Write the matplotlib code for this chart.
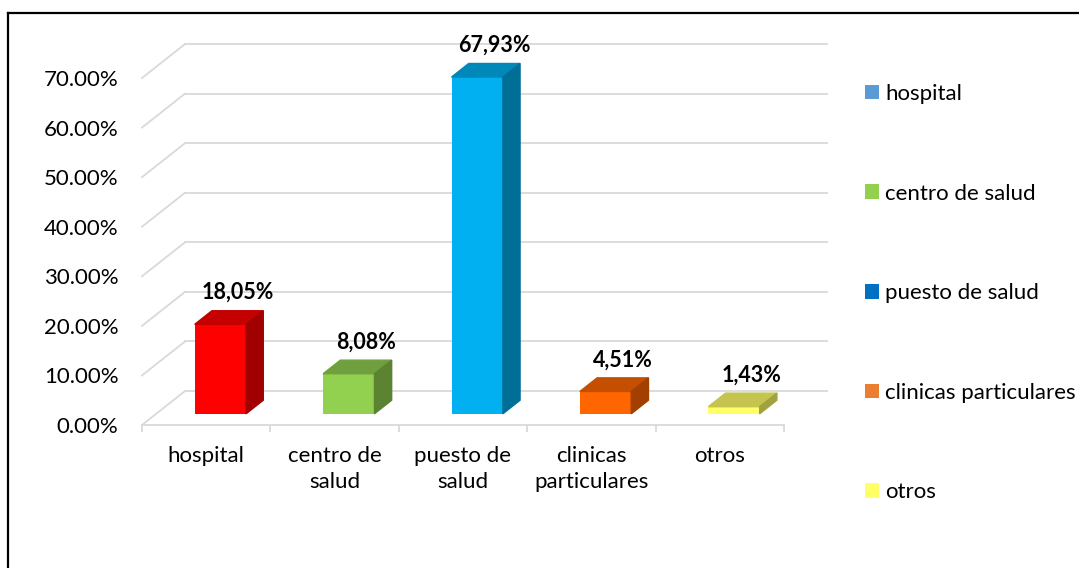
import matplotlib.pyplot as plt
from matplotlib.patches import Polygon, Patch
from matplotlib.lines import Line2D
from matplotlib.colors import to_rgb

# data
categories = ["hospital", "centro de\nsalud", "puesto de\nsalud", "clinicas\nparticulares", "otros"]
legend_names = ["hospital", "centro de salud", "puesto de salud", "clinicas particulares", "otros"]
values = [18.05, 8.08, 67.93, 4.51, 1.43]
value_labels = ["18,05%", "8,08%", "67,93%", "4,51%", "1,43%"]
bar_colors = ["#FF0000", "#92D050", "#00B0F0", "#FF6600", "#FFFF66"]
legend_colors = ["#5B9BD5", "#92D050", "#0070C0", "#ED7D31", "#FFFF66"]
yticks = [0, 10, 20, 30, 40, 50, 60, 70]

plt.rcParams['font.family'] = ['Lato', 'DejaVu Sans']
FS = 16

W, H = 1079, 568
fig = plt.figure(figsize=(W / 100, H / 100), dpi=100)
# front plane of the 3d chart: x 142..784 px, y 425..78 px
ax = fig.add_axes([142 / W, (H - 425) / H, 642 / W, 347 / H])
ax.set_xlim(0, 5)
ax.set_ylim(0, 70)

# depth of the chart (back wall offset) in data units
DX = 43 / 128.4
DY = 6.85
grid_c = "#D9D9D9"

for t in yticks:
    ax.plot([0, DX], [t, t + DY], color=grid_c, lw=1.3, zorder=0, clip_on=False)
    ax.plot([DX, 5 + DX], [t + DY, t + DY], color=grid_c, lw=1.3, zorder=0, clip_on=False)

# bars with fake depth
f1 = 0.33   # where bar front sits in depth
d = 0.40    # bar depth
w = 0.40    # bar width
for i, (v, c) in enumerate(zip(values, bar_colors)):
    xc = i + 0.5 + f1 * DX
    b = f1 * DY
    rgb = to_rgb(c)
    top_c = tuple(ch * 0.77 for ch in rgb)
    side_c = tuple(ch * 0.63 for ch in rgb)
    ax.bar(xc, v, width=w, bottom=b, color=c, zorder=2, clip_on=False)
    xl, xr = xc - w / 2, xc + w / 2
    top = Polygon([(xl, b + v), (xr, b + v), (xr + d * DX, b + v + d * DY),
                   (xl + d * DX, b + v + d * DY)], closed=True, color=top_c, zorder=2, clip_on=False)
    side = Polygon([(xr, b), (xr + d * DX, b + d * DY), (xr + d * DX, b + v + d * DY),
                    (xr, b + v)], closed=True, color=side_c, zorder=2, clip_on=False)
    ax.add_patch(top)
    ax.add_patch(side)
    ax.annotate(value_labels[i], (xc + d * DX, b + v + d * DY), xytext=(0, 13),
                textcoords="offset points", ha="center", va="center",
                fontsize=15.5, fontweight="bold", annotation_clip=False)

# axes styling
for s in ["left", "top", "right"]:
    ax.spines[s].set_visible(False)
ax.spines["bottom"].set_color(grid_c)
ax.spines["bottom"].set_linewidth(1.3)
ax.set_facecolor("none")

ax.set_yticks(yticks)
ax.set_yticklabels([f"{t:.2f}%" for t in yticks], fontsize=FS)
ax.tick_params(axis="y", length=0, pad=17)

ax.set_xticks([i + 0.5 for i in range(5)])
ax.set_xticklabels(categories, fontsize=FS, linespacing=1.4)
ax.set_xticks(range(6), minor=True)
ax.tick_params(axis="x", which="major", length=0, pad=15)
ax.tick_params(axis="x", which="minor", length=5, color=grid_c, width=1.3)

handles = [Patch(facecolor=c, edgecolor="none") for c in legend_colors]
fig.legend(handles, legend_names, loc="upper left", bbox_to_anchor=(865 / W, 1 - 84 / H),
           frameon=False, fontsize=FS, labelspacing=3.58, handlelength=0.63,
           handleheight=0.63, handletextpad=0.27, borderpad=0, borderaxespad=0)

# chart border (left and top edges visible)
fig.add_artist(Line2D([8 / W, 8 / W], [0, 1 - 13 / H], transform=fig.transFigure, color="black", lw=1.6))
fig.add_artist(Line2D([8 / W, 1], [1 - 13 / H, 1 - 13 / H], transform=fig.transFigure, color="black", lw=1.6))

fig.savefig("out.png", dpi=100)
